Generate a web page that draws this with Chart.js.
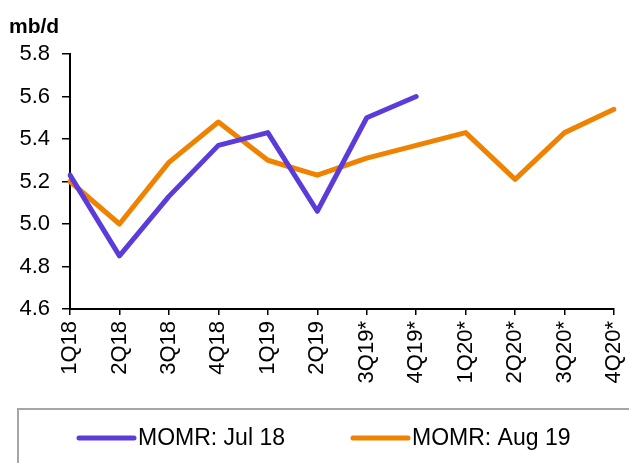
<!DOCTYPE html>
<html>
<head>
<meta charset="utf-8">
<script src="https://cdn.jsdelivr.net/npm/chart.js@4.4.1/dist/chart.umd.min.js"></script>
<style>
  html, body { margin: 0; padding: 0; background: #fff; }
  #wrap { width: 629px; height: 463px; }
</style>
</head>
<body>
<div id="wrap"><canvas id="chart" width="629" height="463"></canvas></div>
<script>
'use strict';

const QUARTERS = ['1Q18', '2Q18', '3Q18', '4Q18', '1Q19', '2Q19',
  '3Q19*', '4Q19*', '1Q20*', '2Q20*', '3Q20*', '4Q20*'];

const MOMR_JUL18 = [5.23, 4.85, 5.13, 5.37, 5.43, 5.06, 5.50, 5.60,
  null, null, null, null];
const MOMR_AUG19 = [5.20, 5.00, 5.29, 5.48, 5.30, 5.23, 5.31, 5.37,
  5.43, 5.21, 5.43, 5.54];

const SERIES_NAMES = ['MOMR: Jul 18', 'MOMR: Aug 19'];
const UNIT_LABEL = 'mb/d';

const PURPLE = '#5B3CDB';
const ORANGE = '#EF8200';
const FONT = '"Liberation Sans", Arial, sans-serif';

/* Draws the unit label and the boxed legend below the axis */
const extras = {
  id: 'extras',
  afterDraw(chart) {
    const ctx = chart.ctx;
    ctx.save();

    ctx.fillStyle = '#000';
    ctx.font = 'bold 21px ' + FONT;
    ctx.textBaseline = 'alphabetic';
    ctx.textAlign = 'left';
    ctx.fillText(UNIT_LABEL, 9, 33);

    ctx.strokeStyle = '#A6A6A6';
    ctx.lineWidth = 2;
    ctx.strokeRect(18, 409, 700, 100);

    const items = [
      { x: 79, color: PURPLE, text: SERIES_NAMES[0] },
      { x: 353, color: ORANGE, text: SERIES_NAMES[1] }
    ];
    ctx.font = '23px ' + FONT;
    ctx.textBaseline = 'middle';
    items.forEach(item => {
      ctx.strokeStyle = item.color;
      ctx.lineWidth = 5;
      ctx.lineCap = 'round';
      ctx.beginPath();
      ctx.moveTo(item.x, 438);
      ctx.lineTo(item.x + 55, 438);
      ctx.stroke();
      ctx.fillStyle = '#000';
      ctx.fillText(item.text, item.x + 59, 439);
    });

    ctx.restore();
  }
};

const lineStyle = {
  borderWidth: 5,
  pointRadius: 0,
  pointHoverRadius: 0,
  tension: 0,
  borderCapStyle: 'round',
  borderJoinStyle: 'round',
  spanGaps: false
};

new Chart(document.getElementById('chart'), {
  type: 'line',
  data: {
    labels: QUARTERS,
    datasets: [
      Object.assign({
        label: SERIES_NAMES[0],
        data: MOMR_JUL18,
        borderColor: PURPLE,
        backgroundColor: PURPLE
      }, lineStyle),
      Object.assign({
        label: SERIES_NAMES[1],
        data: MOMR_AUG19,
        borderColor: ORANGE,
        backgroundColor: ORANGE
      }, lineStyle)
    ]
  },
  options: {
    responsive: false,
    animation: false,
    layout: { padding: { top: 54, right: 15, left: 0, bottom: 0 } },
    plugins: {
      legend: { display: false },
      title: { display: false },
      tooltip: { enabled: false }
    },
    scales: {
      x: {
        offset: false,
        afterFit(scale) {
          scale.height = 154;
          scale.paddingLeft = 0;
          scale.paddingRight = 0;
        },
        border: { display: true, color: '#000', width: 2 },
        grid: {
          display: true,
          drawOnChartArea: false,
          drawTicks: true,
          tickLength: 6,
          color: '#000',
          lineWidth: 1.5
        },
        ticks: {
          autoSkip: false,
          minRotation: 90,
          maxRotation: 90,
          padding: 6,
          color: '#000',
          font: { family: FONT, size: 22 }
        }
      },
      y: {
        min: 4.6,
        max: 5.8,
        afterFit(scale) { scale.width = 70; },
        border: { display: true, color: '#000', width: 2 },
        grid: {
          display: true,
          drawOnChartArea: false,
          drawTicks: true,
          tickLength: 8,
          color: '#000',
          lineWidth: 1.5
        },
        ticks: {
          stepSize: 0.2,
          padding: 12,
          color: '#000',
          font: { family: FONT, size: 22 },
          callback: v => Number(v).toFixed(1)
        }
      }
    }
  },
  plugins: [extras]
});
</script>
</body>
</html>
